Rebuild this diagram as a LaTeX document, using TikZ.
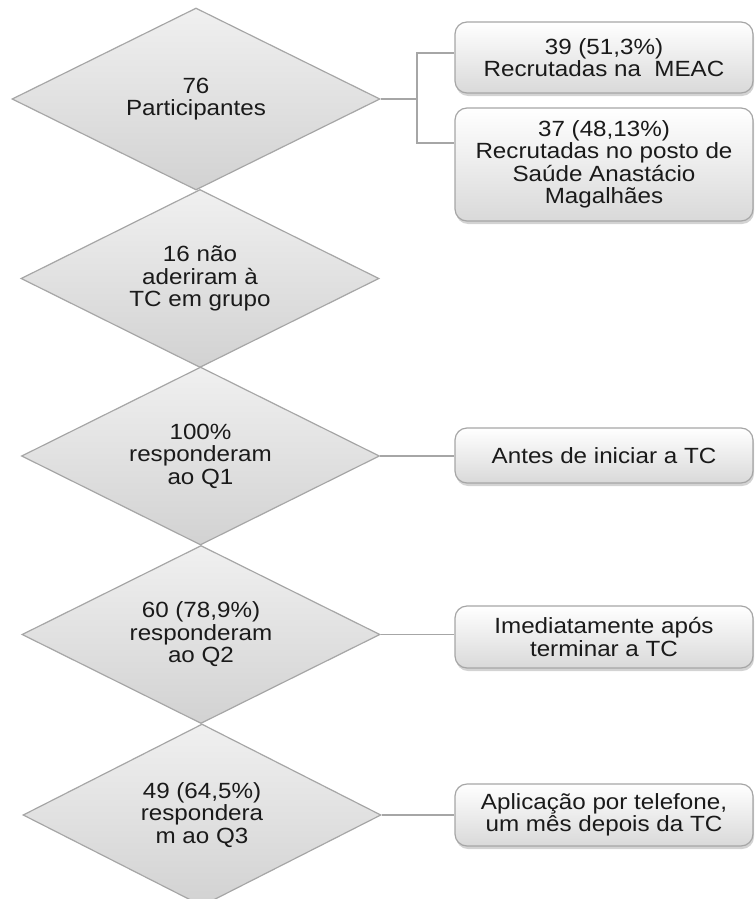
\documentclass[tikz,border=0pt]{standalone}
\usepackage{fontspec}
\setmainfont{Liberation Sans}[FakeStretch=1.1]
\usepackage{xcolor}
\usetikzlibrary{positioning,shapes.geometric,shadows}

\definecolor{edgegray}{HTML}{A6A6A6}
\definecolor{stagetop}{HTML}{F0F0F0}
\definecolor{stagebot}{HTML}{D2D2D2}
\definecolor{notebot}{HTML}{D9D9D9}
\definecolor{inkgray}{HTML}{1A1A1A}

\begin{document}
\begin{tikzpicture}[x=1pt,y=-1pt,
		stage/.style={diamond,aspect=2,draw=edgegray,line width=1.2pt,
			top color=stagetop,bottom color=stagebot,inner sep=0pt,
			minimum width=358pt,minimum height=178pt,align=center,
			text=inkgray,font=\fontsize{22}{22.5}\selectfont},
		note/.style={rectangle,rounded corners=12pt,draw=edgegray,line width=1.2pt,
			top color=white,bottom color=notebot,minimum width=298pt,
			align=center,text=inkgray,font=\fontsize{22}{22.5}\selectfont,
			drop shadow={shadow xshift=1pt,shadow yshift=-3pt,opacity=0.35}},
		link/.style={draw=edgegray,line width=1.5pt}]
			\useasboundingbox (0,0) rectangle (755,899);

			\node[stage,minimum width=368pt,minimum height=182pt] (D1) at (196,99) {76\\Participantes};
			\node[stage] (D2) at (200,278.5) {16 não\\aderiram à\\TC em grupo};
			\node[stage] (D3) at (200.5,456) {100\%\\responderam\\ao Q1};
			\node[stage] (D4) at (201,634.5) {60 (78,9\%)\\responderam\\ao Q2};
			\node[stage,minimum height=182pt] (D5) at (202,815) {49 (64,5\%)\\respondera\\m ao Q3};

			\node[note,minimum height=71pt] (B1) at (604,57.5) {39 (51,3\%)\\Recrutadas na\ \ MEAC};
			\node[note,minimum height=113pt] (B2) at (604,164.5) {37 (48,13\%)\\Recrutadas no posto de\\Saúde Anastácio\\Magalhães};
			\node[note,minimum height=55pt] (B3) at (604,455.5) {Antes de iniciar a TC};
			\node[note,minimum height=62pt] (B4) at (604,637) {Imediatamente após\\terminar a TC};
			\node[note,minimum height=62pt] (B5) at (604,815) {Aplicação por telefone,\\um mês depois da TC};

			\coordinate (fork) at (417,99);
			\draw[link] (D1.east) -- (fork);
			\draw[link] (fork) |- ([yshift=4.5pt]B1.west);
			\draw[link] (fork) |- ([yshift=21.5pt]B2.west);
			\draw[link] (D3.east) -- (D3.east -| B3.west);
			\draw[link] (D4.east) -- (D4.east -| B4.west);
			\draw[link] (D5.east) -- (D5.east -| B5.west);
		\end{tikzpicture}
\end{document}
